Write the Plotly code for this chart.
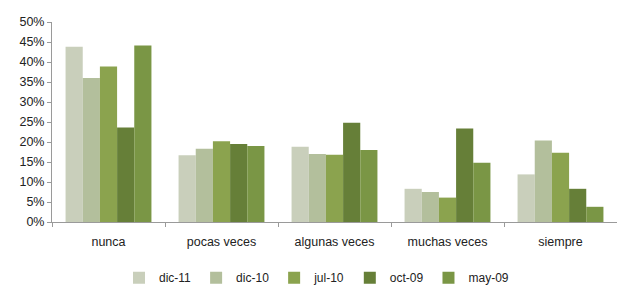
import plotly.graph_objects as go

categories = ["nunca", "pocas veces", "algunas veces", "muchas veces", "siempre"]
series_names = ["dic-11", "dic-10", "jul-10", "oct-09", "may-09"]
dic11 = [43.8, 16.7, 18.8, 8.3, 11.9]
dic10 = [36.0, 18.3, 17.0, 7.5, 20.4]
jul10 = [38.9, 20.2, 16.8, 6.1, 17.3]
oct09 = [23.6, 19.5, 24.8, 23.4, 8.3]
may09 = [44.1, 19.0, 18.0, 14.8, 3.8]
colors = ["#c9cfbb", "#b3bf9c", "#8ba34e", "#667f38", "#7a9645"]
y_ticks = [0, 5, 10, 15, 20, 25, 30, 35, 40, 45, 50]

fig = go.Figure()
for name, vals, col in zip(series_names, [dic11, dic10, jul10, oct09, may09], colors):
    fig.add_trace(go.Bar(x=categories, y=vals, name=name, marker=dict(color=col, line=dict(width=0))))

fig.update_layout(
    width=617, height=278,
    margin=dict(l=44, r=8, t=14, b=64, autoexpand=False),
    paper_bgcolor="white", plot_bgcolor="white",
    barmode="group", bargap=0.24, bargroupgap=0,
    font=dict(family="Liberation Sans, Arial, sans-serif", size=12.5, color="#222222"),
    showlegend=True,
    legend=dict(orientation="h", x=0.5, xanchor="center", xref="container",
                y=0.03, yanchor="middle", yref="container",
                font=dict(size=12), itemwidth=30, tracegroupgap=0),
)
fig.update_xaxes(showline=True, linecolor="#9a9a9a", linewidth=1, ticks="outside",
                 tickson="boundaries", ticklen=4, tickcolor="#9a9a9a", showgrid=False,
                 ticklabelstandoff=8)
fig.update_yaxes(range=[0, 50], tickvals=y_ticks, ticktext=[f"{v}%" for v in y_ticks],
                 showline=True, linecolor="#9a9a9a", linewidth=1, ticks="outside",
                 ticklen=4, tickcolor="#9a9a9a", showgrid=False, zeroline=False)

fig.write_html("out.html")
